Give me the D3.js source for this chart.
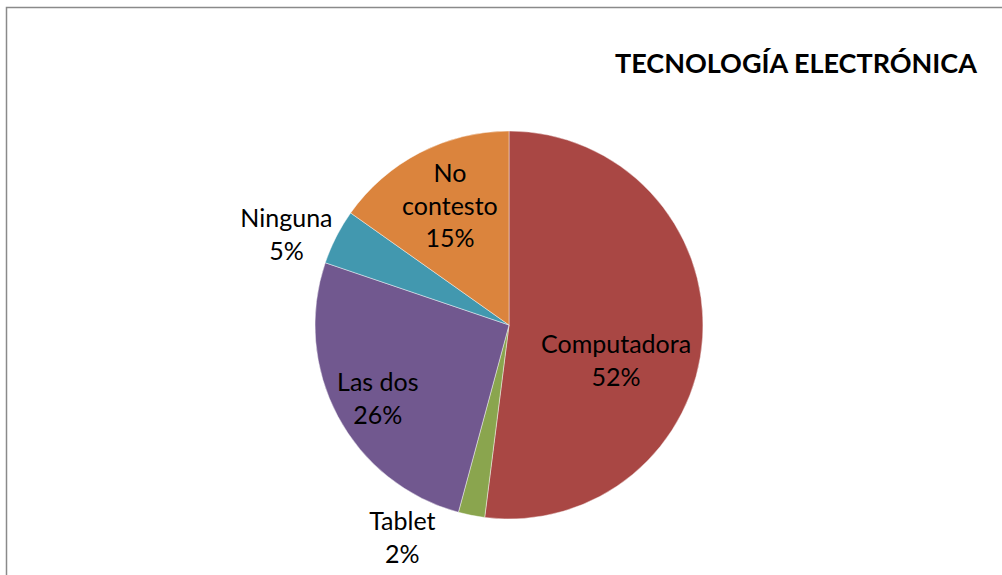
<!DOCTYPE html>
<html lang="es">
  <head>
    <meta charset="utf-8">
    <title>Tecnología electrónica</title>
    <style type="text/css">
      body { margin: 0; background: #fff; }
      svg text { font-family: Lato, "Open Sans", sans-serif; fill: #000; }
    </style>
    <script src="https://d3js.org/d3.v7.min.js"></script>
  </head>
  <body>
    <div id="chart"></div>
    <script>
    // shares (in %)
    var categories = ["Computadora", "Tablet", "Las dos", "Ninguna", "No contesto"];
    var shares = [52.0, 2.2, 26.0, 4.6, 15.2];
    var colors = ["#A94744", "#8AA54E", "#71588F", "#4298AF", "#DB843D"];
    // label lines (Excel wraps "No contesto")
    var labelLines = [["Computadora"], ["Tablet"], ["Las dos"], ["Ninguna"], ["No", "contesto"]];
    // where each label sits: [angle in degrees from 12 o'clock, distance from centre]
    var labelPlace = [[112.6, 116], [205.7, 246], [237.8, 155], [290.1, 237], [331.8, 125]];

    var width = 1002, height = 575;
    var cx = 509, cy = 325, radius = 194;
    var lineH = 32.5;

    var svg = d3.select("#chart").append("svg")
      .attr("width", width)
      .attr("height", height);

    // chart frame (runs off the right and bottom edge)
    svg.append("rect")
      .attr("x", 6.5).attr("y", 7.5)
      .attr("width", 1100).attr("height", 700)
      .attr("fill", "none")
      .attr("stroke", "#8a8a8a")
      .attr("stroke-width", 1.5);

    // title
    svg.append("text")
      .attr("x", 977).attr("y", 73)
      .attr("text-anchor", "end")
      .attr("font-size", "27px")
      .attr("font-weight", "bold")
      .text("TECNOLOGÍA ELECTRÓNICA");

    var total = d3.sum(shares);
    var data = categories.map(function(c, i) { return {name: c, value: shares[i], i: i}; });

    var pie = d3.pie().sort(null).value(function(d) { return d.value; });
    var arc = d3.arc().innerRadius(0).outerRadius(radius);

    var g = svg.append("g").attr("transform", "translate(" + cx + "," + cy + ")");

    g.selectAll("path.slice")
      .data(pie(data))
      .enter()
      .append("path")
        .attr("class", "slice")
        .attr("d", arc)
        .attr("fill", function(d) { return colors[d.data.i]; })
        .attr("stroke", "rgba(255,255,255,0.55)")
        .attr("stroke-width", 0.8);

    var pct = function(v) { return Math.round(v / total * 100) + "%"; };

    var labels = g.selectAll("text.lbl")
      .data(pie(data))
      .enter()
      .append("text")
        .attr("class", "lbl")
        .attr("text-anchor", "middle")
        .attr("font-size", "25px");

    labels.each(function(d) {
      var i = d.data.i;
      var p = d3.pointRadial(labelPlace[i][0] * Math.PI / 180, labelPlace[i][1]);
      var lines = labelLines[i].concat([pct(d.data.value)]);
      var t = d3.select(this);
      lines.forEach(function(s, k) {
        t.append("tspan")
          .attr("x", p[0])
          .attr("y", p[1] + (k - (lines.length - 1) / 2) * lineH)
          .text(s);
      });
    });
    </script>
  </body>
</html>
